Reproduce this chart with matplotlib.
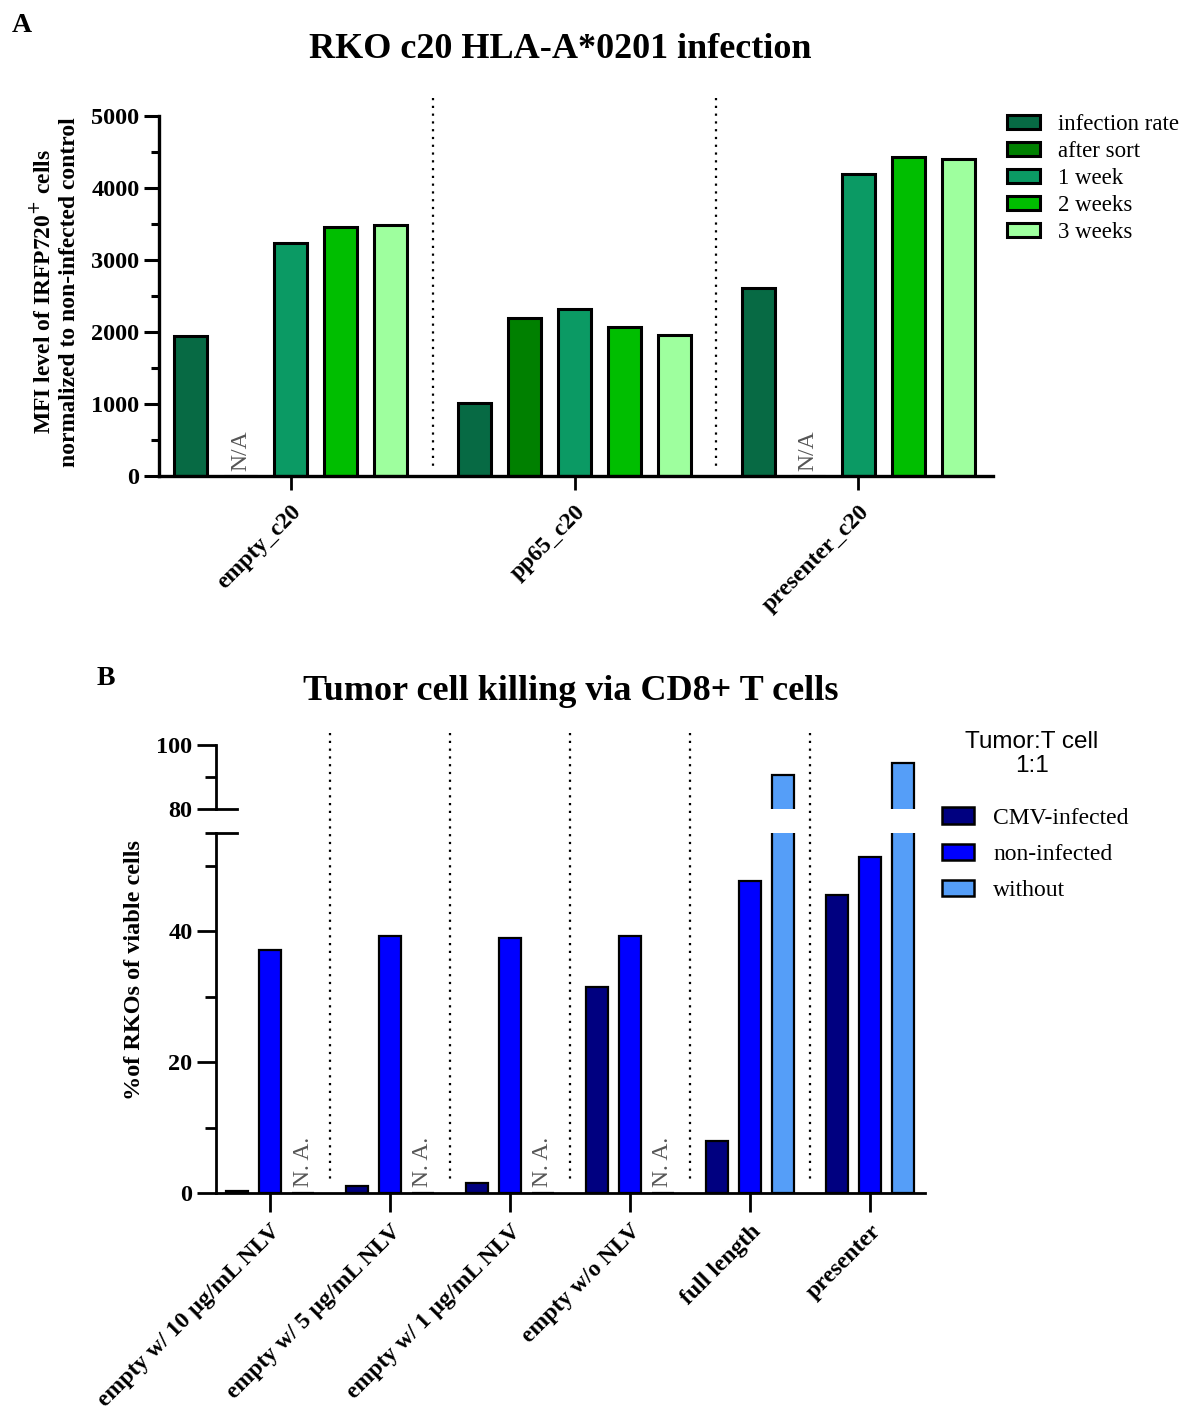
import numpy as np
import matplotlib
matplotlib.use("Agg")
import matplotlib.pyplot as plt
from matplotlib.patches import Patch
from matplotlib.lines import Line2D
import matplotlib.transforms as mtransforms

# ---------------- data ----------------
groups_a = ["empty_c20", "pp65_c20", "presenter_c20"]
series_a = ["infection rate", "after sort", "1 week", "2 weeks", "3 weeks"]
infection_rate = [1940, 1010, 2610]
after_sort = [np.nan, 2200, np.nan]
week1 = [3240, 2320, 4190]
week2 = [3460, 2070, 4430]
week3 = [3490, 1960, 4400]
colors_a = ["#076A44", "#008000", "#0B9A64", "#00BE00", "#9EFF9E"]

groups_b = ["empty w/ 10 \u00b5g/mL NLV", "empty w/ 5 \u00b5g/mL NLV",
            "empty w/ 1 \u00b5g/mL NLV", "empty w/o NLV", "full length", "presenter"]
series_b = ["CMV-infected", "non-infected", "without"]
cmv_infected = [0.3, 1.0, 1.5, 31.5, 8.0, 45.6]
non_infected = [37.2, 39.3, 39.0, 39.3, 47.6, 51.3]
without = [np.nan, np.nan, np.nan, np.nan, 90.6, 94.3]
colors_b = ["#000080", "#0000FF", "#559EF8"]

SERIF = "Liberation Serif"
SANS = "Liberation Sans"

W, H = 1189, 1416
fig = plt.figure(figsize=(W / 100, H / 100), dpi=100)


def fx(px):
    return px / W


def fy(py):
    return 1 - py / H


TICK_FS = 17.5
XLAB_FS = 17
NA_FS = 17

# ---------------- Panel A ----------------
axA = fig.add_axes([fx(159), fy(476), fx(993) - fx(159), fy(116) - fy(476)])
step_a = 5.68
vals_a = [infection_rate, after_sort, week1, week2, week3]
for j, (vals, col, lab) in enumerate(zip(vals_a, colors_a, series_a)):
    xs = np.arange(len(groups_a)) * step_a + (j - 2)
    axA.bar(xs, np.nan_to_num(vals), width=0.66, color=col, edgecolor="black",
            linewidth=2.2, label=lab)
    for x, v in zip(xs, vals):
        if np.isnan(v):
            axA.text(x, 70, "N/A", rotation=90, ha="center", va="bottom",
                     fontsize=NA_FS, color="#555555", family=SERIF)
axA.set_xlim(-2.64, 2 * step_a + 2.7)
axA.set_ylim(0, 5000)
axA.set_yticks([0, 1000, 2000, 3000, 4000, 5000])
axA.set_yticks(np.arange(500, 5000, 1000), minor=True)
axA.set_xticks(np.arange(len(groups_a)) * step_a)
axA.set_xticklabels(groups_a, rotation=45, ha="right", rotation_mode="anchor",
                    fontsize=XLAB_FS, fontweight="bold", family=SERIF)
for t in axA.get_yticklabels():
    t.set_fontsize(TICK_FS); t.set_fontweight("bold"); t.set_family(SERIF)
axA.tick_params(axis="y", which="major", length=11, width=2.2, pad=3)
axA.tick_params(axis="y", which="minor", length=6, width=2.2)
axA.tick_params(axis="x", which="major", length=10, width=2.0, pad=8)
for s in ["top", "right"]:
    axA.spines[s].set_visible(False)
for s in ["left", "bottom"]:
    axA.spines[s].set_linewidth(2.4)

trA = mtransforms.blended_transform_factory(axA.transData, fig.transFigure)
for i in range(len(groups_a) - 1):
    xm = (i + 0.5) * step_a
    fig.add_artist(Line2D([xm, xm], [fy(98), fy(470)], transform=trA,
                          color="black", lw=1.6, linestyle=(0, (1, 2.5))))

fig.text(fx(12), fy(25), "A", fontsize=20, fontweight="bold", family=SERIF,
         ha="left", va="center")
fig.text(fx(560), fy(50), "RKO c20 HLA-A*0201 infection", fontsize=26,
         fontweight="bold", family=SERIF, ha="center", va="center")
fig.text(fx(55), fy(292),
         "MFI level of IRFP720$^{+}$ cells\nnormalized to non-infected control",
         rotation=90, fontsize=17, fontweight="bold", family=SERIF,
         ha="center", va="center", linespacing=1.2)

handles_a = [Patch(facecolor=c, edgecolor="black", linewidth=2.2) for c in colors_a]
fig.legend(handles_a, series_a, loc="upper left",
           bbox_to_anchor=(fx(998), fy(105)), frameon=False,
           prop={"family": SERIF, "size": 16.5}, handlelength=1.45,
           handleheight=0.6, labelspacing=0.26, handletextpad=0.75,
           borderaxespad=0)

# ---------------- Panel B ----------------
step_b = 3.64
axB = fig.add_axes([fx(216), fy(1193), fx(925) - fx(216), fy(833) - fy(1193)])
axBt = fig.add_axes([fx(216), fy(809), fx(925) - fx(216), fy(745) - fy(809)],
                    sharex=axB)
vals_b = [cmv_infected, non_infected, without]
for j, (vals, col, lab) in enumerate(zip(vals_b, colors_b, series_b)):
    xs = np.arange(len(groups_b)) * step_b + (j - 1)
    for ax in (axB, axBt):
        ax.bar(xs, np.nan_to_num(vals), width=0.66, color=col,
               edgecolor="black", linewidth=1.6, label=lab)
    for x, v in zip(xs, vals):
        if np.isnan(v):
            axB.text(x, 0.9, "N. A.", rotation=90, ha="center", va="bottom",
                     fontsize=NA_FS, color="#555555", family=SERIF)

axB.set_xlim(-1.64, 5 * step_b + 1.67)
axB.set_ylim(0, 55)
axBt.set_ylim(80, 100)
axB.set_yticks([0, 20, 40])
axB.set_yticks([10, 30, 50, 55], minor=True)
axBt.set_yticks([80, 100])
axBt.set_yticks([90], minor=True)
axB.set_xticks(np.arange(len(groups_b)) * step_b)
axB.set_xticklabels(groups_b, rotation=45, ha="right", rotation_mode="anchor",
                    fontsize=XLAB_FS, fontweight="bold", family=SERIF)
for ax in (axB, axBt):
    for t in ax.get_yticklabels():
        t.set_fontsize(TICK_FS); t.set_fontweight("bold"); t.set_family(SERIF)
    ax.tick_params(axis="y", which="major", length=14, width=2.0, pad=3)
    ax.tick_params(axis="y", which="minor", length=8, width=2.0)
    for s in ["top", "right"]:
        ax.spines[s].set_visible(False)
    ax.spines["left"].set_linewidth(2.0)
axB.spines["bottom"].set_linewidth(2.0)
axBt.spines["bottom"].set_visible(False)
axBt.tick_params(axis="x", which="both", bottom=False, labelbottom=False)
axB.tick_params(axis="x", which="major", length=14, width=2.0, pad=6)

# break markers
trL = mtransforms.blended_transform_factory(axB.transAxes, axB.transData)
axB.add_line(Line2D([0, 0.03], [55, 55], transform=trL, color="black",
                    lw=2.0, clip_on=False))
trU = mtransforms.blended_transform_factory(axBt.transAxes, axBt.transData)
axBt.add_line(Line2D([0, 0.03], [80, 80], transform=trU, color="black",
                     lw=2.0, clip_on=False))

trB = mtransforms.blended_transform_factory(axB.transData, fig.transFigure)
for i in range(len(groups_b) - 1):
    xm = (i + 0.5) * step_b
    fig.add_artist(Line2D([xm, xm], [fy(733), fy(1182)], transform=trB,
                          color="black", lw=1.6, linestyle=(0, (1, 2.5))))

fig.text(fx(97), fy(678), "B", fontsize=20, fontweight="bold", family=SERIF,
         ha="left", va="center")
fig.text(fx(571), fy(692), "Tumor cell killing via CD8+ T cells", fontsize=26,
         fontweight="bold", family=SERIF, ha="center", va="center")
fig.text(fx(135), fy(970), "%of RKOs of viable cells", rotation=90,
         fontsize=17.5, fontweight="bold", family=SERIF, ha="center", va="center")

fig.text(fx(1032), fy(754), "Tumor:T cell\n1:1", fontsize=17.5, family=SANS,
         ha="center", va="center", linespacing=1.1)
handles_b = [Patch(facecolor=c, edgecolor="black", linewidth=1.8) for c in colors_b]
fig.legend(handles_b, series_b, loc="upper left",
           bbox_to_anchor=(fx(933), fy(798)), frameon=False,
           prop={"family": SERIF, "size": 17}, handlelength=1.35,
           handleheight=0.7, labelspacing=0.62, handletextpad=0.8,
           borderaxespad=0)

fig.savefig("out.png", dpi=100, facecolor="white")
